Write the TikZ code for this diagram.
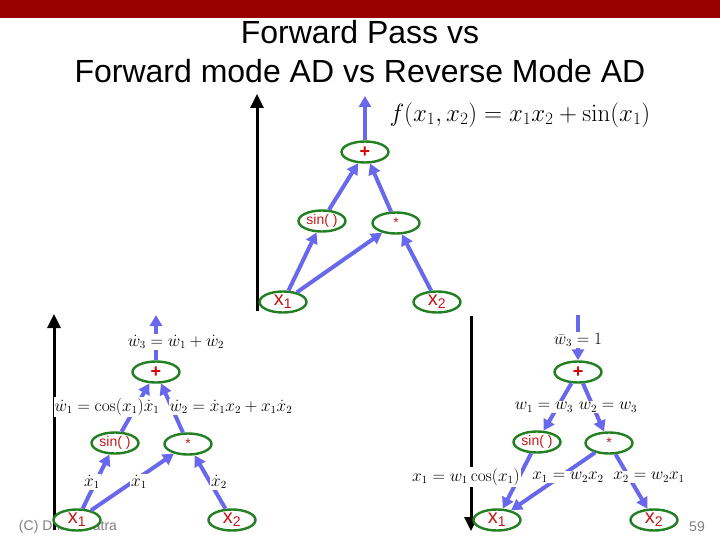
\documentclass[tikz,border=0pt]{standalone}
\usepackage[no-math]{fontspec}
\setmainfont{Liberation Sans}
\usepackage{xcolor}
\usetikzlibrary{arrows.meta, shapes.geometric}
\definecolor{slidered}{RGB}{153,0,0}
\definecolor{edgeblue}{RGB}{104,104,236}
\definecolor{ovalgreen}{RGB}{34,128,34}
\definecolor{textred}{RGB}{196,24,24}

\begin{document}
\begin{tikzpicture}[x=1pt, y=-1pt,
    op/.style={ellipse, draw=ovalgreen, line width=2.4pt, fill=white,
      minimum width=47pt, minimum height=21pt, inner sep=0pt,
      text=textred, font=\fontsize{14}{14}\selectfont},
    plusop/.style={op, text=red!85!black, font=\bfseries\fontsize{18}{18}\selectfont},
    var/.style={op, font=\fontsize{20}{20}\selectfont},
    flow/.style={draw=edgeblue, line width=4pt, -{Triangle[length=11pt,width=12pt]}},
    pass/.style={line width=3pt, -{Triangle[length=14pt,width=13pt]}},
    lab/.style={fill=white, inner sep=1pt, font=\fontsize{16}{16}\selectfont}]
  \useasboundingbox (0,0) rectangle (720,540);

  % title bar and title
  \fill[slidered] (0,0) rectangle (720,18);
  \node[font=\fontsize{32}{39}\selectfont, align=center] (title) at (360,52)
    {Forward Pass vs\\Forward mode AD vs Reverse Mode AD};
  \node[text=gray, font=\fontsize{14}{14}\selectfont] (copy) at (68,527) {(C) Dhruv Batra};
  \node[text=gray, font=\fontsize{14}{14}\selectfont] (page) at (697,527) {59};

  % forward pass (top)
  \coordinate (tbase) at (257,311);
  \coordinate (ttip) at (257,94);
  \draw[pass] (tbase) -- (ttip);
  \node[plusop] (tplus) at (365,152) {+};
  \node[op] (tsin) at (322,221) {sin( )};
  \node[op] (tmul) at (396,223) {*};
  \node[var] (tx1) at (283,302) {x\textsubscript{1}};
  \node[var] (tx2) at (437,302) {x\textsubscript{2}};
  \coordinate (tout) at (365,96);
  \draw[flow] (tx1) -- (tsin);
  \draw[flow] (tx1) -- (tmul);
  \draw[flow] (tx2) -- (tmul);
  \draw[flow] (tsin) -- (tplus);
  \draw[flow] (tmul) -- (tplus);
  \draw[flow] (tplus) -- (tout);
  \node[font=\fontsize{24}{24}\selectfont, anchor=west] (tf) at (386,115)
    {$f(x_1,x_2)=x_1x_2+\sin(x_1)$};

  % forward mode AD (left)
  \coordinate (fbase) at (54,530);
  \coordinate (ftip) at (54,314);
  \draw[pass] (fbase) -- (ftip);
  \node[plusop] (fplus) at (156,372) {+};
  \node[op] (fsin) at (115,443) {sin( )};
  \node[op] (fmul) at (188,444) {*};
  \node[var] (fx1) at (77,520) {x\textsubscript{1}};
  \node[var] (fx2) at (232,520) {x\textsubscript{2}};
  \coordinate (fout) at (156,315);
  \draw[flow] (fx1) -- (fsin);
  \draw[flow] (fx1) -- (fmul);
  \draw[flow] (fx2) -- (fmul);
  \draw[flow] (fsin) -- (fplus);
  \draw[flow] (fmul) -- (fplus);
  \draw[flow] (fplus) -- (fout);
  \node[lab] (fw3) at (176,342) {$\dot w_3=\dot w_1+\dot w_2$};
  \node[lab] (fw1) at (107,407) {$\dot w_1=\cos(x_1)\dot x_1$};
  \node[lab] (fw2) at (231,407) {$\dot w_2=\dot x_1x_2+x_1\dot x_2$};
  \node[lab] (fd1) at (92,482) {$\dot x_1$};
  \node[lab] (fd2) at (139,482) {$\dot x_1$};
  \node[lab] (fd3) at (219,482) {$\dot x_2$};

  % reverse mode AD (right)
  \coordinate (rbase) at (471,316);
  \coordinate (rtip) at (471,531);
  \draw[pass] (rbase) -- (rtip);
  \node[plusop] (rplus) at (578,372) {+};
  \node[op] (rsin) at (537,442) {sin( )};
  \node[op] (rmul) at (609,443) {*};
  \node[var] (rx1) at (497,520) {x\textsubscript{1}};
  \node[var] (rx2) at (654,520) {x\textsubscript{2}};
  \coordinate (rin) at (578,315);
  \draw[flow] (rin) -- (rplus);
  \draw[flow] (rplus) -- (rsin);
  \draw[flow] (rplus) -- (rmul);
  \draw[flow] (rsin) -- (rx1);
  \draw[flow] (rmul) -- (rx1);
  \draw[flow] (rmul) -- (rx2);
  \node[lab] (rw3) at (578,340) {$\bar w_3=1$};
  \node[lab] (rw1) at (544,407) {$w_1=w_3$};
  \node[lab] (rw2) at (608,407) {$w_2=w_3$};
  \node[lab] (rx1a) at (466,477) {$x_1=w_1\cos(x_1)$};
  \node[lab] (rx1b) at (568,477) {$x_1=w_2x_2$};
  \node[lab] (rx2a) at (649,477) {$x_2=w_2x_1$};
\end{tikzpicture}
\end{document}
